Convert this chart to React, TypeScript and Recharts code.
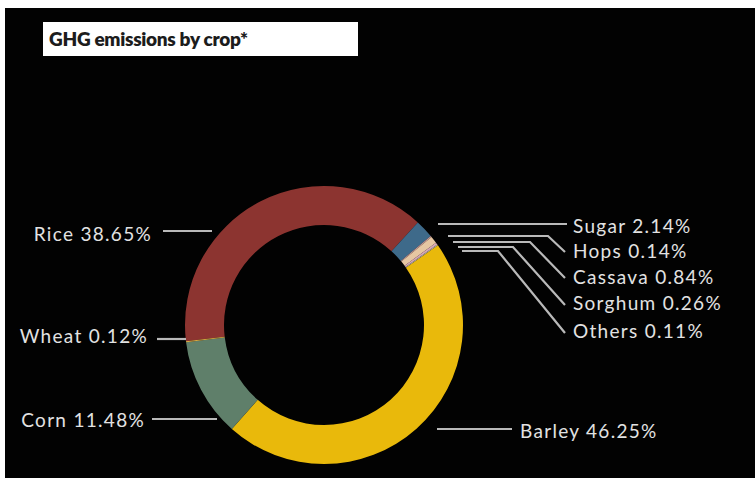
import React from "react";
import { PieChart, Pie, Cell } from "recharts";

// GHG emissions share by crop (%), in drawing order (clockwise from the left)
const crops = ["Rice", "Sugar", "Hops", "Cassava", "Sorghum", "Others", "Barley", "Corn", "Wheat"];
const shares = [38.65, 2.14, 0.14, 0.84, 0.26, 0.11, 46.25, 11.48, 0.12];
const colors = ["#8c3430", "#3e6a8a", "#c99a9a", "#e6c6a2", "#d7a7b4", "#b4b4b4", "#e9b90b", "#5f7f6a", "#e2b348"];

const data = crops.map((name, i) => ({ name, value: shares[i] }));

// label layout, offsets from the pie centre
type Callout = {
  side: "left" | "right";
  y: number; // y of the horizontal leader
  x1: number;
  x2: number;
  endY?: number;
  textX: number;
  textY: number;
};

const callouts: Record<string, Callout> = {
  Rice: { side: "left", y: -94, x1: -112, x2: -161, textX: -172, textY: -92 },
  Wheat: { side: "left", y: 14, x1: -138, x2: -167, textX: -176, textY: 10 },
  Corn: { side: "left", y: 94, x1: -107, x2: -172, textX: -179, textY: 94 },
  Barley: { side: "right", y: 104, x1: 113, x2: 188, textX: 196, textY: 105 },
  Sugar: { side: "right", y: -101, x1: 114, x2: 243, textX: 249, textY: -100 },
  Hops: { side: "right", y: -89, x1: 124, x2: 224, endY: -73, textX: 249, textY: -75 },
  Cassava: { side: "right", y: -83, x1: 129, x2: 206, endY: -47, textX: 249, textY: -49 },
  Sorghum: { side: "right", y: -78, x1: 134, x2: 189, endY: -20, textX: 249, textY: -23 },
  Others: { side: "right", y: -74, x1: 138, x2: 174, endY: 8, textX: 249, textY: 5 },
};

const LINE = "#b9b9b9";
const TEXT = "#e2e2e2";

const renderLabel = (props: any) => {
  const { cx, cy, value } = props;
  const name = props.name ?? props.payload?.name;
  const c = callouts[name];
  if (!c) return null;
  const pts: string[] = [`${cx + c.x1},${cy + c.y}`, `${cx + c.x2},${cy + c.y}`];
  if (c.endY !== undefined) {
    pts.push(`${cx + 241},${cy + c.endY}`);
  }
  return (
    <g key={`lbl-${name}`}>
      <polyline points={pts.join(" ")} fill="none" stroke={LINE} strokeWidth={2.2} />
      <text
        x={cx + c.textX}
        y={cy + c.textY}
        textAnchor={c.side === "left" ? "end" : "start"}
        dominantBaseline="central"
        fill={TEXT}
        fontSize={19}
        letterSpacing={1.3}
        fontFamily="Lato, 'Open Sans', sans-serif"
      >
        {`${name} ${Number(value).toFixed(2)}%`}
      </text>
    </g>
  );
};

export default function App() {
  return (
    <div style={{ position: "absolute", left: 0, top: 0, width: 755, height: 478, background: "#ffffff", overflow: "hidden" }}>
      <div style={{ position: "absolute", left: 5, top: 8, width: 750, height: 470, background: "#020202" }} />
      <div
        style={{
          position: "absolute",
          left: 43,
          top: 22,
          width: 315,
          height: 34,
          background: "#ffffff",
          boxSizing: "border-box",
          paddingLeft: 6,
          lineHeight: "33px",
          fontFamily: "Lato, 'Open Sans', sans-serif",
          fontWeight: 800,
          fontSize: 19,
          letterSpacing: -0.3,
          color: "#1c1c1c",
        }}
      >
        GHG emissions by crop*
      </div>
      <div style={{ position: "absolute", left: 0, top: 0 }}>
        <PieChart width={755} height={478} margin={{ top: 0, right: 0, bottom: 0, left: 0 }}>
          <Pie
            data={data}
            dataKey="value"
            nameKey="name"
            cx={324}
            cy={325}
            innerRadius={100}
            outerRadius={139}
            startAngle={186.7}
            endAngle={-173.3}
            stroke="none"
            label={renderLabel}
            labelLine={false}
            isAnimationActive={false}
          >
            {data.map((d, i) => (
              <Cell key={d.name} fill={colors[i]} />
            ))}
          </Pie>
        </PieChart>
      </div>
    </div>
  );
}
